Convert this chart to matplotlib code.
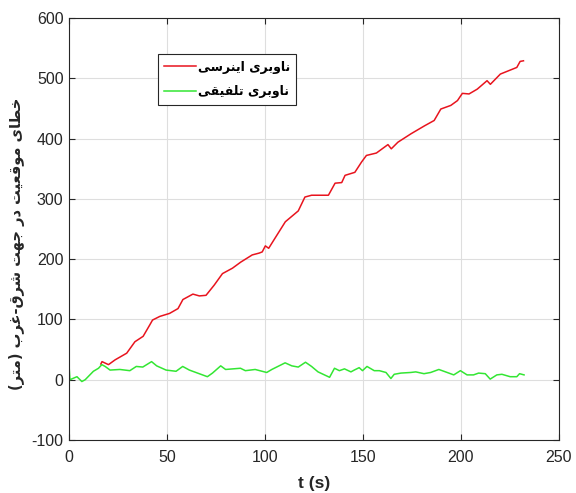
import matplotlib
matplotlib.use("Agg")
import matplotlib.pyplot as plt

# ---------------- data ----------------
ins_t = [16.2, 16.8, 20.1, 23.5, 29.4, 33.6, 37.8, 41.2, 42.6, 46.3, 51.3, 55.6, 58.1,
         63.2, 66.5, 69.9, 74.1, 78.3, 83.4, 87.6, 93.5, 97.0, 98.6, 100.2, 101.9, 104.4,
         110.4, 117.0, 120.4, 123.8, 132.4, 135.8, 139.2, 140.9, 145.9, 149.3, 151.8,
         156.9, 162.8, 164.5, 167.9, 174.6, 181.4, 186.4, 189.8, 194.9, 198.3, 200.8,
         204.2, 208.4, 213.4, 215.1, 220.2, 228.6, 230.3, 232.0]
ins_err = [26, 30, 25, 33, 44, 63, 72, 91, 99, 105, 110, 118, 133,
           142, 139, 140, 157, 176, 185, 195, 207, 210, 212, 222, 218, 231,
           262, 280, 303, 306, 306, 326, 327, 339, 344, 361, 372,
           376, 390, 383, 394, 408, 421, 430, 449, 455, 463, 475,
           474, 482, 496, 490, 507, 518, 528, 529]

fus_t = [0, 0.4, 4, 6.5, 8.2, 12.4, 15, 16.7, 18.4, 20.9, 25.9, 31, 34.3, 37.6, 42.1,
         44.7, 49.5, 54.6, 58, 61.4, 68.1, 70.6, 73.2, 77.4, 79.9, 87.5, 90, 95, 100.9,
         103.5, 110.3, 113.7, 117, 120.7, 123.8, 127.1, 133, 135.5, 138, 140.6, 143.9,
         145.6, 148.1, 149.8, 152.1, 155.8, 158.4, 161.8, 164.3, 166, 169.4, 174.4, 177,
         181.2, 184.6, 188.8, 192.2, 196.4, 199.8, 203.2, 206.5, 209.1, 212.5, 215,
         218.4, 221, 225.2, 228.6, 230, 232.3]
fus_err = [22, 0, 5, -3, 0, 14, 19, 25, 22, 16, 17, 15, 22, 21, 30,
           23, 16, 14, 22, 16, 8, 5, 11, 23, 17, 19, 15, 17, 12,
           17, 28, 23, 21, 29, 22, 13, 4, 19, 15, 18, 13,
           16, 20, 15, 22, 15, 15, 12, 2, 9, 11, 12, 13,
           10, 12, 17, 13, 8, 15, 8, 8, 11, 10, 1,
           8, 9, 5, 5, 10, 8]

label_ins = "ناوبری اینرسی"
label_fus = "ناوبری تلفیقی"
ylabel_text = "خطای موقعیت در جهت شرق-غرب (متر)"
xlabel_text = "t (s)"
xticks = [0, 50, 100, 150, 200, 250]
yticks = [-100, 0, 100, 200, 300, 400, 500, 600]

# ---------------- minimal Arabic/Persian shaping ----------------
# (isolated, final, initial, medial); None -> letter joins only to the previous one
FORMS = {
    'ا': (0xFE8D, 0xFE8E, None, None),
    'د': (0xFEA9, 0xFEAA, None, None),
    'ر': (0xFEAD, 0xFEAE, None, None),
    'و': (0xFEED, 0xFEEE, None, None),
    'ب': (0xFE8F, 0xFE90, 0xFE91, 0xFE92),
    'ت': (0xFE95, 0xFE96, 0xFE97, 0xFE98),
    'ج': (0xFE9D, 0xFE9E, 0xFE9F, 0xFEA0),
    'خ': (0xFEA5, 0xFEA6, 0xFEA7, 0xFEA8),
    'س': (0xFEB1, 0xFEB2, 0xFEB3, 0xFEB4),
    'ش': (0xFEB5, 0xFEB6, 0xFEB7, 0xFEB8),
    'ط': (0xFEC1, 0xFEC2, 0xFEC3, 0xFEC4),
    'ع': (0xFEC9, 0xFECA, 0xFECB, 0xFECC),
    'غ': (0xFECD, 0xFECE, 0xFECF, 0xFED0),
    'ف': (0xFED1, 0xFED2, 0xFED3, 0xFED4),
    'ق': (0xFED5, 0xFED6, 0xFED7, 0xFED8),
    'ل': (0xFEDD, 0xFEDE, 0xFEDF, 0xFEE0),
    'م': (0xFEE1, 0xFEE2, 0xFEE3, 0xFEE4),
    'ن': (0xFEE5, 0xFEE6, 0xFEE7, 0xFEE8),
    'ه': (0xFEE9, 0xFEEA, 0xFEEB, 0xFEEC),
    'ی': (0xFEEF, 0xFEF0, 0xFEF3, 0xFEF4),
}


def shape(s):
    out = []
    n = len(s)
    for i, c in enumerate(s):
        if c not in FORMS:
            out.append(c)
            continue
        prev = s[i - 1] if i > 0 else ''
        nxt = s[i + 1] if i < n - 1 else ''
        jp = prev in FORMS and FORMS[prev][2] is not None
        jn = FORMS[c][2] is not None and nxt in FORMS
        iso, fin, ini, med = FORMS[c]
        if jp and jn:
            g = med
        elif jp:
            g = fin
        elif jn:
            g = ini
        else:
            g = iso
        out.append(chr(g))
    vis = ''.join(reversed(out))
    return vis.translate(str.maketrans('()', ')('))


# ---------------- plot ----------------
plt.rcParams['axes.unicode_minus'] = False
plt.rcParams['font.family'] = ['Liberation Sans', 'DejaVu Sans']

fig = plt.figure(figsize=(5.76, 4.93), dpi=100)
ax = fig.add_axes([0.12, 0.1075, 0.85, 0.856])

ax.plot(ins_t, ins_err, color='#e8141e', lw=1.1, label=shape(label_ins))
ax.plot(fus_t, fus_err, color='#33e633', lw=1.1, label=shape(label_fus))

ax.set_xlim(0, 250)
ax.set_ylim(-100, 600)
ax.set_xticks(xticks)
ax.set_yticks(yticks)
ax.grid(True, color='#dedede', lw=0.8)
ax.set_axisbelow(True)

ax.tick_params(direction='in', length=4, width=0.8, colors='#262626',
               labelsize=11.5, top=True, right=True, labelcolor='#262626')
ax.tick_params(axis='x', pad=7)
ax.tick_params(axis='y', pad=4)
for sp in ax.spines.values():
    sp.set_color('#262626')
    sp.set_linewidth(0.8)

ax.set_xlabel(xlabel_text, fontsize=12.5, fontweight='bold', color='#262626', labelpad=8)
ax.set_ylabel(shape(ylabel_text), fontsize=10.5, fontweight='bold', color='#262626',
              family=['DejaVu Sans'])
ax.yaxis.set_label_coords(-0.09, 0.466)

leg = ax.legend(loc='upper left', bbox_to_anchor=(0.182, 0.914), borderaxespad=0,
                fancybox=False, edgecolor='#262626', framealpha=1, handlelength=2.5,
                handletextpad=0.15, borderpad=0.5, labelspacing=0.95,
                prop={'family': ['DejaVu Sans'], 'weight': 'bold', 'size': 9})
leg.get_frame().set_linewidth(0.8)

fig.savefig('out.png', dpi=100)
